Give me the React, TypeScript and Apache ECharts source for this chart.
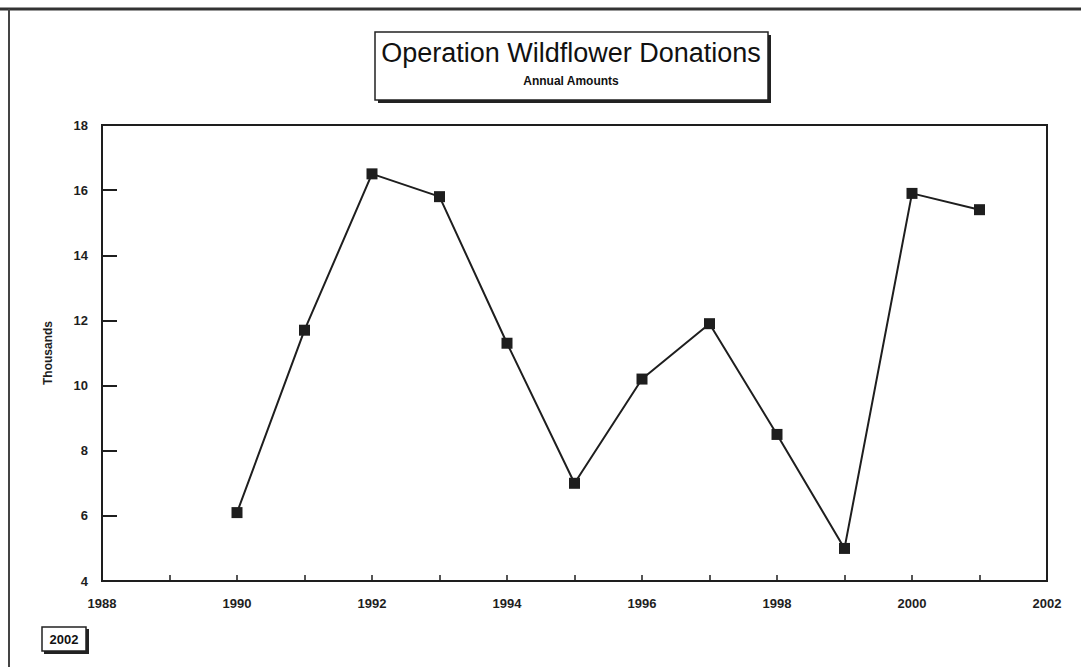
import React, { useEffect, useRef } from "react";
import * as echarts from "echarts";

const years = [1990, 1991, 1992, 1993, 1994, 1995, 1996, 1997, 1998, 1999, 2000, 2001];
const donations = [6.1, 11.7, 16.5, 15.8, 11.3, 7.0, 10.2, 11.9, 8.5, 5.0, 15.9, 15.4];
const titleText = "Operation Wildflower Donations";
const subtitleText = "Annual Amounts";
const yAxisName = "Thousands";
const stampText = "2002";

const FONT = "'Liberation Sans', Arial, Helvetica, sans-serif";
const INK = "#1e1e1e";

export default function App() {
  const ref = useRef<HTMLDivElement>(null);
  useEffect(() => {
    if (!ref.current) return;
    const chart = echarts.init(ref.current, null, { renderer: "svg" });
    chart.setOption({
      animation: false,
      backgroundColor: "#ffffff",
      grid: { left: 102, right: 34, top: 125, bottom: 86, show: true, borderColor: INK, borderWidth: 2, backgroundColor: "transparent" },
      xAxis: {
        type: "value",
        min: 1988,
        max: 2002,
        interval: 1,
        axisLine: { show: true, lineStyle: { color: INK, width: 2 } },
        axisTick: { show: true, inside: true, length: 6, lineStyle: { color: INK, width: 1.5 } },
        splitLine: { show: false },
        axisLabel: {
          color: INK,
          fontFamily: FONT,
          fontWeight: "bold",
          fontSize: 13,
          margin: 16,
          formatter: (v: number) => (v % 2 === 0 ? String(v) : ""),
        },
      },
      yAxis: {
        type: "value",
        min: 4,
        max: 18,
        interval: 2,
        name: yAxisName,
        nameLocation: "middle",
        nameGap: 48,
        nameTextStyle: { color: INK, fontFamily: FONT, fontWeight: "bold", fontSize: 12 },
        axisLine: { show: true, lineStyle: { color: INK, width: 2 } },
        axisTick: { show: true, inside: true, length: 15, lineStyle: { color: INK, width: 2 } },
        splitLine: { show: false },
        axisLabel: { color: INK, fontFamily: FONT, fontWeight: "bold", fontSize: 13, margin: 14 },
      },
      series: [
        {
          type: "line",
          data: years.map((y, i) => [y, donations[i]]),
          symbol: "rect",
          symbolSize: 11,
          lineStyle: { color: INK, width: 2 },
          itemStyle: { color: INK },
        },
      ],
      graphic: [
        { type: "line", shape: { x1: 0, y1: 9, x2: 1081, y2: 9 }, style: { stroke: "#333", lineWidth: 3 } },
        { type: "line", shape: { x1: 9, y1: 9, x2: 9, y2: 667 }, style: { stroke: "#444", lineWidth: 2 } },
        { type: "rect", shape: { x: 378, y: 35, width: 393, height: 68 }, style: { fill: "#222" } },
        { type: "rect", shape: { x: 375, y: 32, width: 393, height: 68 }, style: { fill: "#fff", stroke: "#222", lineWidth: 1.5 } },
        {
          type: "text",
          x: 571,
          y: 53,
          style: { text: titleText, font: `27px ${FONT}`, fill: "#111", align: "center", verticalAlign: "middle" },
        },
        {
          type: "text",
          x: 571,
          y: 81,
          style: { text: subtitleText, font: `bold 12px ${FONT}`, fill: "#111", align: "center", verticalAlign: "middle" },
        },
        { type: "rect", shape: { x: 44, y: 629, width: 45, height: 25 }, style: { fill: "#222" } },
        { type: "rect", shape: { x: 42, y: 627, width: 44, height: 24 }, style: { fill: "#fff", stroke: "#222", lineWidth: 1.5 } },
        {
          type: "text",
          x: 64,
          y: 639,
          style: { text: stampText, font: `bold 13px ${FONT}`, fill: "#111", align: "center", verticalAlign: "middle" },
        },
      ],
    });
    return () => chart.dispose();
  }, []);
  return (
    <div
      ref={ref}
      style={{ position: "fixed", left: 0, top: 0, width: 1081, height: 667, background: "#fff" }}
    />
  );
}
